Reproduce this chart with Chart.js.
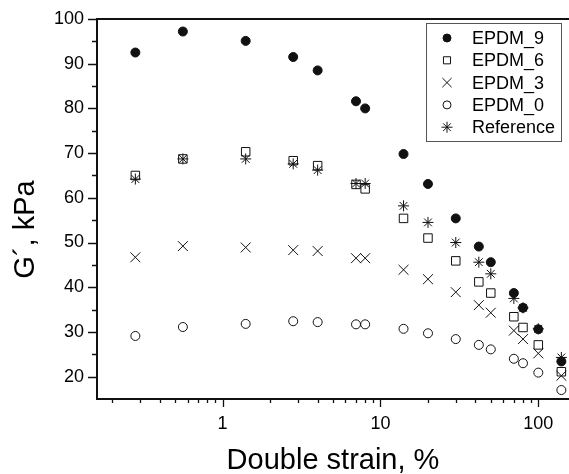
<!DOCTYPE html>
<html>
<head>
<meta charset="utf-8">
<script src="https://cdn.jsdelivr.net/npm/chart.js@4/dist/chart.umd.min.js"></script>
<style>
  html, body { margin: 0; padding: 0; background: #fff; }
  canvas { display: block; }
</style>
</head>
<body>
<canvas id="gChart" width="569" height="474"></canvas>
<script>
// Strain values (x, log scale)
const strain = [0.28, 0.56, 1.4, 2.8, 4, 7, 8, 14, 20, 30, 42, 50, 70, 80, 100, 140];

// G' values, kPa
const epdm9 = [92.5, 97.2, 95.1, 91.5, 88.5, 81.6, 80.0, 69.8, 63.1, 55.4, 49.1, 45.6, 38.7, 35.4, 30.6, 23.4];
const epdm6 = [65.0, 68.7, 70.3, 68.3, 67.2, 63.0, 62.0, 55.4, 51.0, 45.9, 41.2, 38.7, 33.4, 31.0, 27.1, 21.1];
const epdm3 = [46.7, 49.2, 48.9, 48.3, 48.1, 46.5, 46.5, 43.9, 41.8, 38.9, 36.0, 34.3, 30.3, 28.4, 25.2, 20.2];
const epdm0 = [29.1, 31.1, 31.8, 32.4, 32.2, 31.7, 31.7, 30.7, 29.7, 28.4, 27.1, 26.1, 24.0, 23.0, 20.9, 17.0];
const reference = [64.2, 68.7, 68.7, 67.6, 66.2, 63.2, 63.2, 58.2, 54.5, 50.0, 45.6, 43.0, 37.5, 35.4, 30.7, 24.3];

// Axis ticks
const xTicks = [0.2, 0.3, 0.4, 0.5, 0.6, 0.7, 0.8, 0.9, 1, 2, 3, 4, 5, 6, 7, 8, 9, 10, 20, 30, 40, 50, 60, 70, 80, 90, 100];
const xLabels = [1, 10, 100];
const yTicks = [20, 25, 30, 35, 40, 45, 50, 55, 60, 65, 70, 75, 80, 85, 90, 95, 100];
const yLabels = [20, 30, 40, 50, 60, 70, 80, 90, 100];

const FONT = "'Liberation Sans', Arial, sans-serif";
const INK = "#111";

function toPoints(values) {
  return strain.map((x, i) => ({ x, y: values[i] }));
}

const series = [
  { label: "EPDM_9", data: epdm9, style: "circle", radius: 4.5, fill: INK, legendRadius: 4 },
  { label: "EPDM_6", data: epdm6, style: "rect", radius: 6, fill: "rgba(0,0,0,0)", legendRadius: 5 },
  { label: "EPDM_3", data: epdm3, style: "crossRot", radius: 7, fill: "rgba(0,0,0,0)", legendRadius: 6.5 },
  { label: "EPDM_0", data: epdm0, style: "circle", radius: 4.5, fill: "rgba(0,0,0,0)", legendRadius: 4 },
  { label: "Reference", data: reference, style: "star", radius: 5.5, fill: "rgba(0,0,0,0)", legendRadius: 5.5 }
];

// Axis ticks, frame line, axis titles and legend box
const decorPlugin = {
  id: "decor",
  afterDraw(chart) {
    const ctx = chart.ctx;
    const area = chart.chartArea;
    const xs = chart.scales.x;
    const ys = chart.scales.y;
    ctx.save();
    ctx.strokeStyle = INK;
    ctx.lineWidth = 1.3;

    // tick marks
    ctx.beginPath();
    xTicks.forEach(v => {
      const px = Math.round(xs.getPixelForValue(v)) + 0.5;
      const len = xLabels.includes(v) ? 8 : 4;
      ctx.moveTo(px, area.bottom);
      ctx.lineTo(px, area.bottom + len);
    });
    yTicks.forEach(v => {
      const py = Math.round(ys.getPixelForValue(v)) + 0.5;
      const len = yLabels.includes(v) ? 9 : 5;
      ctx.moveTo(area.left, py);
      ctx.lineTo(area.left - len, py);
    });
    ctx.stroke();

    // top frame line
    ctx.lineWidth = 2;
    ctx.beginPath();
    ctx.moveTo(area.left, area.top);
    ctx.lineTo(area.right, area.top);
    ctx.stroke();

    // axis titles
    ctx.fillStyle = "#000";
    ctx.font = "29px " + FONT;
    ctx.textAlign = "center";
    ctx.textBaseline = "alphabetic";
    ctx.fillText("Double strain, %", 333, 469);
    ctx.save();
    ctx.translate(33.5, 229.5);
    ctx.rotate(-Math.PI / 2);
    ctx.fillText("G´, kPa", 0, 0);
    ctx.restore();

    // legend
    const box = { x: 426, y: 23, w: 135, h: 118 };
    ctx.fillStyle = "#fff";
    ctx.fillRect(box.x, box.y, box.w, box.h);
    ctx.strokeStyle = "#555";
    ctx.lineWidth = 1;
    ctx.strokeRect(box.x + 0.5, box.y + 0.5, box.w, box.h);
    ctx.font = "18px " + FONT;
    ctx.textAlign = "left";
    ctx.textBaseline = "middle";
    series.forEach((s, i) => {
      const cy = 38 + i * 22.3;
      ctx.fillStyle = s.fill;
      ctx.strokeStyle = INK;
      ctx.lineWidth = 1;
      Chart.helpers.drawPoint(ctx, { pointStyle: s.style, radius: s.legendRadius, rotation: 0, borderWidth: 1 }, 447, cy);
      ctx.fillStyle = "#000";
      ctx.fillText(s.label, 472, cy + 1);
    });
    ctx.restore();
  }
};

new Chart(document.getElementById("gChart").getContext("2d"), {
  type: "scatter",
  data: {
    datasets: series.map(s => ({
      label: s.label,
      data: toPoints(s.data),
      pointStyle: s.style,
      pointRadius: s.radius,
      pointHoverRadius: s.radius,
      pointBackgroundColor: s.fill,
      pointBorderColor: INK,
      pointBorderWidth: 1,
      showLine: false
    }))
  },
  options: {
    responsive: false,
    devicePixelRatio: 1,
    animation: false,
    layout: { autoPadding: false, padding: { left: 0, right: 0, top: 19, bottom: 0 } },
    plugins: {
      legend: { display: false },
      tooltip: { enabled: false }
    },
    scales: {
      x: {
        type: "logarithmic",
        min: 0.16,
        max: 156.5,
        afterBuildTicks: (scale) => { scale.ticks = xTicks.map(v => ({ value: v })); },
        afterFit: (scale) => { scale.height = 75; scale.paddingLeft = 0; scale.paddingRight = 0; },
        grid: { display: false, drawTicks: false },
        border: { display: true, color: INK, width: 2 },
        ticks: {
          autoSkip: false,
          maxRotation: 0,
          padding: 14,
          color: "#000",
          font: { family: FONT, size: 18 },
          callback: (v) => xLabels.includes(v) ? String(v) : ""
        }
      },
      y: {
        min: 15,
        max: 100,
        afterBuildTicks: (scale) => { scale.ticks = yTicks.map(v => ({ value: v })); },
        afterFit: (scale) => { scale.width = 97; scale.paddingTop = 0; scale.paddingBottom = 0; },
        grid: { display: false, drawTicks: false },
        border: { display: true, color: INK, width: 2 },
        ticks: {
          autoSkip: false,
          padding: 13,
          color: "#000",
          font: { family: FONT, size: 18 },
          callback: (v) => yLabels.includes(v) ? String(v) : ""
        }
      }
    }
  },
  plugins: [decorPlugin]
});
</script>
</body>
</html>
